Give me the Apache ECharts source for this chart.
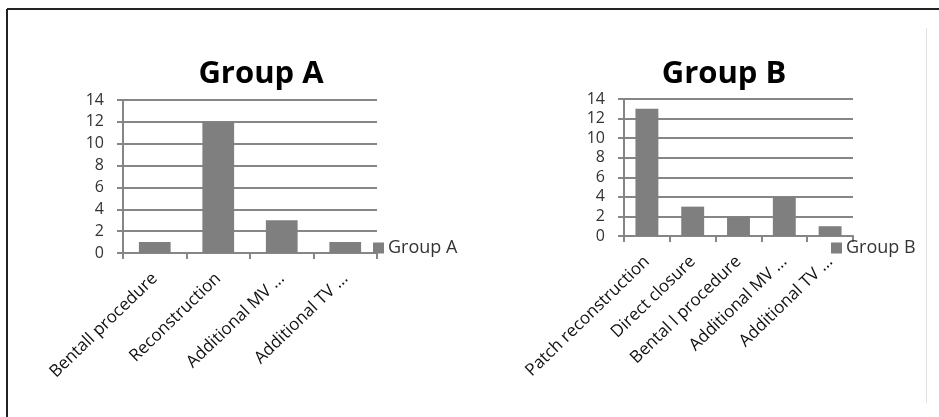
<!DOCTYPE html>
<html>
<head>
<meta charset="utf-8">
<script src="https://cdn.jsdelivr.net/npm/echarts@6/dist/echarts.min.js"></script>
<style>
  html, body { margin: 0; padding: 0; background: #fff; }
  #chart { width: 939px; height: 417px; }
</style>
</head>
<body>
<div id="chart"></div>
<script>
// Surgical procedures per group
const categoriesA = ['Bentall procedure', 'Reconstruction', 'Additional MV ...', 'Additional TV ...'];
const valuesA = [1, 12, 3, 1];

const categoriesB = ['Patch reconstruction', 'Direct closure', 'Bental l procedure', 'Additional MV ...', 'Additional TV ...'];
const valuesB = [13, 3, 2, 4, 1];

const yTicks = { min: 0, max: 14, interval: 2 };

const GRAY = '#868686';
const BAR = '#7f7f7f';
const FONT = 'Open Sans';

function yAxis(gridIndex) {
  return {
    type: 'value', gridIndex,
    min: yTicks.min, max: yTicks.max, interval: yTicks.interval,
    axisLine: { show: true, lineStyle: { color: GRAY, width: 2 } },
    axisTick: { show: true, length: 6, lineStyle: { color: GRAY, width: 2 } },
    splitLine: { show: true, lineStyle: { color: GRAY, width: 2 } },
    axisLabel: { fontFamily: FONT, fontSize: 16, color: '#333', margin: 19 }
  };
}

function xAxis(gridIndex, data) {
  return {
    type: 'category', gridIndex, data,
    axisLine: { show: true, lineStyle: { color: GRAY, width: 2 } },
    axisTick: { show: true, length: 6, alignWithLabel: false, lineStyle: { color: GRAY, width: 2 } },
    axisLabel: { fontFamily: FONT, fontSize: 17, color: '#111', rotate: 44, margin: 23, interval: 0 }
  };
}

const chart = echarts.init(document.getElementById('chart'), null, { renderer: 'canvas' });
chart.setOption({
  animation: false,
  backgroundColor: '#fff',
  title: [
    { text: 'Group A', left: 256, top: 54, textAlign: 'center',
      textStyle: { fontFamily: FONT, fontWeight: 'bold', fontSize: 31, color: '#000' } },
    { text: 'Group B', left: 719, top: 54, textAlign: 'center',
      textStyle: { fontFamily: FONT, fontWeight: 'bold', fontSize: 31, color: '#000' } }
  ],
  legend: [
    { data: ['Group A'], left: 368, top: 234, icon: 'rect', itemWidth: 11, itemHeight: 11, itemGap: 4,
      textStyle: { fontFamily: FONT, fontSize: 18, color: '#333', padding: [0, 0, 0, -1] } },
    { data: ['Group B'], left: 826, top: 234, icon: 'rect', itemWidth: 11, itemHeight: 11, itemGap: 4,
      textStyle: { fontFamily: FONT, fontSize: 18, color: '#333', padding: [0, 0, 0, -1] } }
  ],
  grid: [
    { left: 123, top: 100, width: 254, height: 153 },
    { left: 624, top: 99, width: 229, height: 137 }
  ],
  xAxis: [xAxis(0, categoriesA), xAxis(1, categoriesB)],
  yAxis: [yAxis(0), yAxis(1)],
  series: [
    { name: 'Group A', type: 'bar', xAxisIndex: 0, yAxisIndex: 0, data: valuesA,
      barWidth: '50%', itemStyle: { color: BAR } },
    { name: 'Group B', type: 'bar', xAxisIndex: 1, yAxisIndex: 1, data: valuesB,
      barWidth: '50%', itemStyle: { color: BAR } }
  ],
  graphic: [
    // frame lines along the top and left edge
    { type: 'line', shape: { x1: 7, y1: 9, x2: 939, y2: 9 }, style: { stroke: '#222', lineWidth: 2 } },
    { type: 'line', shape: { x1: 7, y1: 9, x2: 7, y2: 417 }, style: { stroke: '#222', lineWidth: 2 } },
    // faint separator on the right
    { type: 'line', shape: { x1: 926.5, y1: 28, x2: 926.5, y2: 403 }, style: { stroke: '#e2e2e2', lineWidth: 1 } }
  ]
});
</script>
</body>
</html>
